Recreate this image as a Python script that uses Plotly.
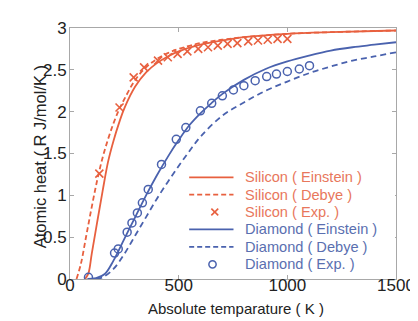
import plotly.graph_objects as go

# ---------------- data ----------------
si_ein_T = [70, 85, 100, 125, 150, 175, 200, 225, 250, 300, 350, 400, 450, 500, 600, 700, 800, 1000, 1200, 1500]
si_ein_C = [0.0, 0.07, 0.30, 0.68, 1.05, 1.40, 1.65, 1.86, 2.04, 2.30, 2.47, 2.58, 2.66, 2.72, 2.80, 2.85, 2.89, 2.93, 2.95, 2.97]

si_deb_T = [30, 50, 75, 100, 125, 150, 175, 200, 225, 250, 300, 350, 400, 450, 500, 600, 700, 800, 1000, 1200, 1500]
si_deb_C = [0.0, 0.18, 0.52, 0.86, 1.18, 1.45, 1.67, 1.86, 2.02, 2.15, 2.38, 2.53, 2.63, 2.70, 2.75, 2.82, 2.86, 2.89, 2.93, 2.95, 2.97]

si_exp_T = [135, 228, 293, 341, 405, 450, 495, 540, 590, 635, 680, 725, 770, 820, 865, 910, 955, 1000]
si_exp_C = [1.26, 2.05, 2.41, 2.53, 2.61, 2.65, 2.69, 2.72, 2.75, 2.77, 2.79, 2.81, 2.82, 2.84, 2.85, 2.86, 2.87, 2.87]

di_ein_T = [80, 120, 160, 200, 250, 300, 350, 400, 450, 500, 550, 600, 650, 700, 800, 900, 1000, 1100, 1200, 1300, 1400, 1500]
di_ein_C = [0.0, 0.01, 0.06, 0.22, 0.48, 0.74, 1.00, 1.24, 1.46, 1.66, 1.84, 1.98, 2.10, 2.21, 2.38, 2.51, 2.60, 2.67, 2.73, 2.77, 2.80, 2.83]

di_deb_T = [120, 150, 200, 250, 300, 350, 400, 450, 500, 550, 600, 700, 800, 900, 1000, 1100, 1200, 1300, 1400, 1500]
di_deb_C = [0.0, 0.02, 0.12, 0.30, 0.52, 0.74, 0.96, 1.16, 1.35, 1.53, 1.70, 1.95, 2.11, 2.25, 2.36, 2.46, 2.54, 2.61, 2.66, 2.71]

di_exp_T = [85, 205, 222, 263, 285, 310, 333, 360, 421, 489, 533, 600, 652, 701, 752, 800, 852, 905, 950, 1000, 1055, 1102]
di_exp_C = [0.02, 0.31, 0.36, 0.56, 0.67, 0.79, 0.91, 1.07, 1.37, 1.67, 1.81, 2.01, 2.10, 2.19, 2.26, 2.31, 2.37, 2.42, 2.45, 2.48, 2.51, 2.55]

x_ticks = [0, 500, 1000, 1500]
y_ticks = [0, 0.5, 1, 1.5, 2, 2.5, 3]
y_tick_text = ["0", "0.5", "1", "1.5", "2", "2.5", "3"]

legend_labels = ["Silicon ( Einstein )", "Silicon ( Debye )", "Silicon ( Exp. )",
                 "Diamond ( Einstein )", "Diamond ( Debye )", "Diamond ( Exp. )"]

RED = "#E8603F"
BLUE = "#4A62AE"
RED_TXT = "#E8775C"
BLUE_TXT = "#5A6FB0"
FONT = "Liberation Sans, Arial"

fig = go.Figure()
fig.add_trace(go.Scatter(x=si_ein_T, y=si_ein_C, mode="lines", line=dict(color=RED, width=1.8, shape="spline"),
                         name=legend_labels[0]))
fig.add_trace(go.Scatter(x=si_deb_T, y=si_deb_C, mode="lines", line=dict(color=RED, width=1.8, dash="5px,3px", shape="spline"),
                         name=legend_labels[1]))
fig.add_trace(go.Scatter(x=si_exp_T, y=si_exp_C, mode="markers",
                         marker=dict(symbol="x-thin-open", size=8, color=RED, line=dict(color=RED, width=1.6)),
                         name=legend_labels[2]))
fig.add_trace(go.Scatter(x=di_ein_T, y=di_ein_C, mode="lines", line=dict(color=BLUE, width=1.8, shape="spline"),
                         name=legend_labels[3]))
fig.add_trace(go.Scatter(x=di_deb_T, y=di_deb_C, mode="lines", line=dict(color=BLUE, width=1.8, dash="6px,4px", shape="spline"),
                         name=legend_labels[4]))
fig.add_trace(go.Scatter(x=di_exp_T, y=di_exp_C, mode="markers",
                         marker=dict(symbol="circle-open", size=8, color=BLUE, line=dict(color=BLUE, width=1.5)),
                         name=legend_labels[5]))

axis_common = dict(showline=True, linecolor="#A8A8A8", linewidth=1, mirror="allticks",
                   ticks="inside", ticklen=4, tickcolor="#A8A8A8", showgrid=False, zeroline=False,
                   tickfont=dict(family=FONT, size=17, color="#222222"))

fig.update_xaxes(range=[0, 1500], tickvals=x_ticks, **axis_common)
try:
    fig.update_xaxes(ticklabelstandoff=-9)
except Exception:
    pass
fig.update_yaxes(range=[0, 3], tickvals=y_ticks, ticktext=y_tick_text, **axis_common)
try:
    fig.update_yaxes(ticklabelstandoff=-1)
except Exception:
    pass

# ---- manual legend (layout in pixels of the plot area) ----
PL, PT, PW, PH = 62, 11, 331, 260


def px2paper(px, py):
    return (px - PL) / PW, (PT + PH - py) / PH


shapes = []
annotations = []
row_y = [165.7, 183.6, 201.6, 219.6, 237.7, 255.8]
colors = [RED, RED, RED, BLUE, BLUE, BLUE]
txt_colors = [RED_TXT, RED_TXT, RED_TXT, BLUE_TXT, BLUE_TXT, BLUE_TXT]
kinds = ["solid", "dash", "x", "solid", "dash", "o"]
# white background behind legend
x0, y0 = px2paper(178, 155)
x1, y1 = px2paper(392, 266)
shapes.append(dict(type="rect", xref="paper", yref="paper", x0=x0, y0=y1, x1=x1, y1=y0,
                   fillcolor="white", line=dict(width=0), layer="above"))
for i, lab in enumerate(legend_labels):
    py = row_y[i]
    c = colors[i]
    if kinds[i] in ("solid", "dash"):
        ax0, ay = px2paper(183, py)
        ax1, _ = px2paper(228, py)
        shapes.append(dict(type="line", xref="paper", yref="paper", x0=ax0, x1=ax1, y0=ay, y1=ay,
                           line=dict(color=c, width=1.8, dash="solid" if kinds[i] == "solid" else "5px,3px"),
                           layer="above"))
    elif kinds[i] == "x":
        a0, b0 = px2paper(205.5, py - 3.5)
        a1, b1 = px2paper(212.5, py + 3.5)
        shapes.append(dict(type="line", xref="paper", yref="paper", x0=a0, y0=b0, x1=a1, y1=b1,
                           line=dict(color=c, width=1.6), layer="above"))
        shapes.append(dict(type="line", xref="paper", yref="paper", x0=a0, y0=b1, x1=a1, y1=b0,
                           line=dict(color=c, width=1.6), layer="above"))
    else:
        a0, b0 = px2paper(203, py - 3.7)
        a1, b1 = px2paper(210.4, py + 3.7)
        shapes.append(dict(type="circle", xref="paper", yref="paper", x0=a0, y0=b1, x1=a1, y1=b0,
                           line=dict(color=c, width=1.5), layer="above"))
    tx, ty = px2paper(238, py)
    annotations.append(dict(text=lab, xref="paper", yref="paper", x=tx, y=ty, xanchor="left", yanchor="middle",
                            showarrow=False, font=dict(family=FONT, size=14.6, color=txt_colors[i])))

annotations.append(dict(text="Absolute temparature ( K )", xref="paper", yref="paper", x=0.51, y=-0.118,
                        xanchor="center", yanchor="middle", showarrow=False,
                        font=dict(family=FONT, size=15, color="#222222")))
annotations.append(dict(text="Atomic heat ( R J/mol/K )", xref="paper", yref="paper", x=-0.092, y=0.485,
                        xanchor="center", yanchor="middle", textangle=-90, showarrow=False,
                        font=dict(family=FONT, size=16.5, color="#222222")))

fig.update_layout(
    width=418, height=321,
    margin=dict(l=62, r=25, t=11, b=50),
    paper_bgcolor="white", plot_bgcolor="white",
    font=dict(family=FONT, color="#222222"),
    showlegend=False,
    shapes=shapes,
    annotations=annotations,
)

fig.write_html("out.html")
